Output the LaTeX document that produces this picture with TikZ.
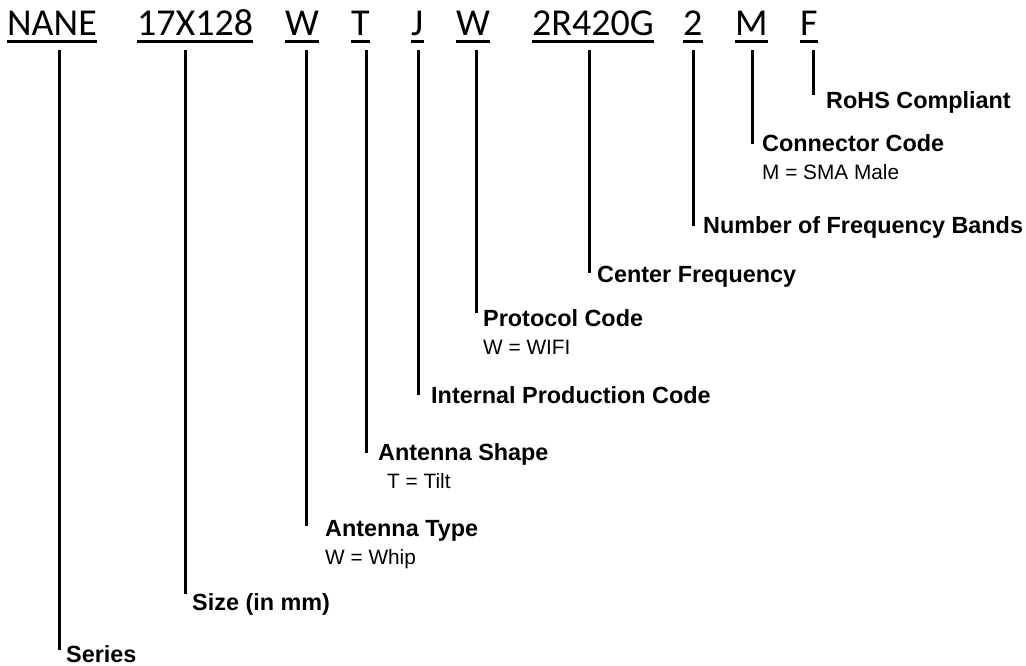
\documentclass[tikz,border=0pt]{standalone}
\usepackage{fontspec}
\setmainfont{Liberation Sans}
\newfontfamily\codefont{Carlito}
\begin{document}
\begin{tikzpicture}[x=1pt,y=-1pt,
  code/.style={anchor=base west, inner sep=0pt, font=\codefont\fontsize{38}{40}\selectfont},
  lab/.style={anchor=base west, inner sep=0pt, font=\bfseries\fontsize{23.4}{26}\selectfont},
  sub/.style={anchor=base west, inner sep=0pt, font=\fontsize{20.8}{24}\selectfont},
  ul/.style={line width=3pt},
  conn/.style={line width=3pt}]
\useasboundingbox (0,0) rectangle (1026,665);
% codes
\node[code] (c1) at (7,35) {NANE};
\node[code] (c2) at (137,35) {17X128};
\node[code] (c3) at (285,35) {W};
\node[code] (c4) at (351,35) {T};
\node[code] (c5) at (411,35) {J};
\node[code] (c6) at (456,35) {W};
\node[code] (c7) at (532,35) {2R420G};
\node[code] (c8) at (683,35) {2};
\node[code] (c9) at (735,35) {M};
\node[code] (c10) at (800,35) {F};
\foreach \c in {c1,c2,c3,c4,c5,c6,c7,c8,c9,c10}
  \draw[ul] ([yshift=-6.5pt]\c.base west) -- ([yshift=-6.5pt]\c.base east);
% labels
\node[lab] (l1) at (66,662) {Series};
\node[lab] (l2) at (192,610) {Size (in mm)};
\node[lab] (l3) at (325,536) {Antenna Type};
\node[sub] (s3) at (325,564) {W = Whip};
\node[lab] (l4) at (378,460) {Antenna Shape};
\node[sub] (s4) at (387,488) {T = Tilt};
\node[lab] (l5) at (431,403) {Internal Production Code};
\node[lab] (l6) at (483,326) {Protocol Code};
\node[sub] (s6) at (483,354) {W = WIFI};
\node[lab] (l7) at (597,282) {Center Frequency};
\node[lab] (l8) at (703,233) {Number of Frequency Bands};
\node[lab] (l9) at (762,151) {Connector Code};
\node[sub] (s9) at (762,179) {M = SMA Male};
\node[lab] (l10) at (826,108) {RoHS Compliant};
% connectors
\foreach \i/\x/\y in {1/59/650, 2/185/594, 3/306/526, 4/366/453, 5/418/395,
                      6/476/313, 7/589/273, 8/693/226, 9/752/144, 10/813/95}{
  \coordinate (t\i) at (\x,50);
  \coordinate (e\i) at (\x,\y);
  \draw[conn] (t\i) -- (e\i);
}
\end{tikzpicture}
\end{document}
